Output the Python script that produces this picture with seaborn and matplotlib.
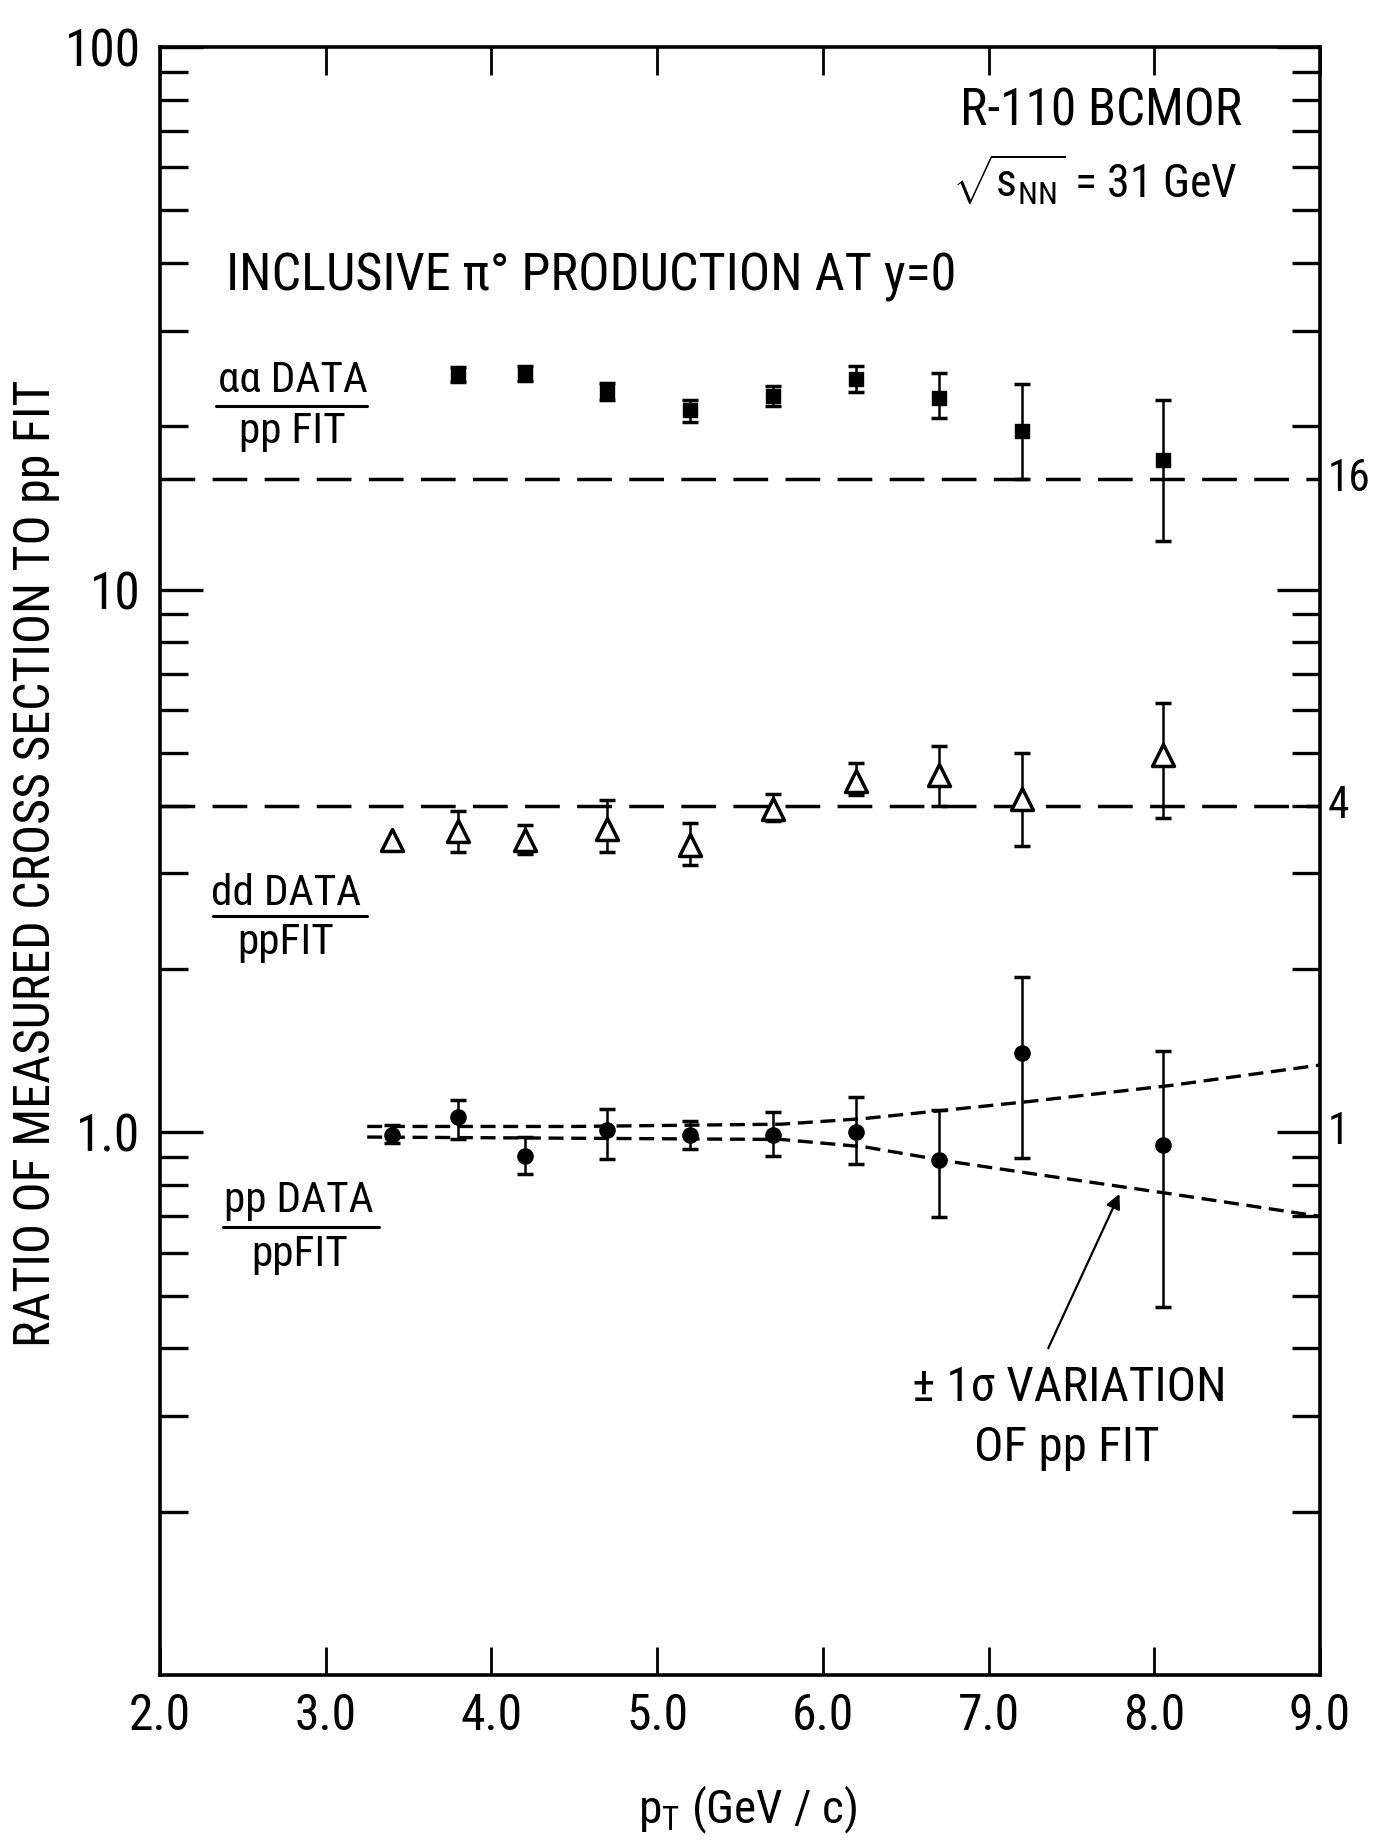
import numpy as np
import matplotlib
matplotlib.use("Agg")
import matplotlib.pyplot as plt
import matplotlib.font_manager as fm
import matplotlib.transforms as mtrans
from matplotlib.ticker import FixedLocator, NullFormatter, FixedFormatter
import seaborn as sns

# ---------------- data ----------------
aa_pt = [3.8, 4.2, 4.7, 5.2, 5.7, 6.2, 6.7, 7.2, 8.05]
aa_val = [24.9, 25.0, 23.2, 21.4, 22.7, 24.4, 22.5, 19.6, 17.3]
aa_lo = [24.1, 24.2, 22.4, 20.4, 21.8, 23.1, 20.7, 16.0, 12.3]
aa_hi = [25.7, 25.8, 24.0, 22.4, 23.7, 25.8, 25.1, 23.9, 22.4]

dd_pt = [3.4, 3.8, 4.2, 4.7, 5.2, 5.7, 6.2, 6.7, 7.2, 8.05]
dd_val = [3.45, 3.59, 3.46, 3.62, 3.38, 3.94, 4.44, 4.56, 4.11, 4.96]
dd_lo = [np.nan, 3.28, 3.26, 3.29, 3.11, 3.75, 4.18, 4.00, 3.37, 3.80]
dd_hi = [np.nan, 3.91, 3.68, 4.09, 3.71, 4.20, 4.79, 5.15, 5.00, 6.18]

pp_pt = [3.4, 3.8, 4.2, 4.7, 5.2, 5.7, 6.2, 6.7, 7.2, 8.05]
pp_val = [0.99, 1.065, 0.905, 1.01, 0.99, 0.99, 1.0, 0.888, 1.40, 0.948]
pp_lo = [0.955, 0.97, 0.838, 0.894, 0.93, 0.904, 0.873, 0.697, 0.895, 0.477]
pp_hi = [1.033, 1.148, 0.98, 1.105, 1.048, 1.09, 1.16, 1.10, 1.93, 1.41]

aa_fit_pt = [2.0, 9.0]
aa_fit = [16.0, 16.0]
dd_fit_pt = [2.0, 9.0]
dd_fit = [4.0, 4.0]
pp_up_pt = [3.25, 4.5, 5.75, 6.25, 7.25, 8.1, 9.0]
pp_up = [1.025, 1.025, 1.035, 1.06, 1.14, 1.22, 1.33]
pp_dn_pt = [3.25, 4.5, 5.75, 6.25, 6.75, 7.25, 8.1, 9.0]
pp_dn = [0.98, 0.975, 0.97, 0.94, 0.885, 0.84, 0.77, 0.70]

x_ticks = [2.0, 3.0, 4.0, 5.0, 6.0, 7.0, 8.0, 9.0]
x_ticklabels = ["2.0", "3.0", "4.0", "5.0", "6.0", "7.0", "8.0", "9.0"]
y_ticks = [1.0, 10.0, 100.0]
y_ticklabels = ["1.0", "10", "100"]
right_vals = [16.0, 4.0, 1.0]
right_labels = ["16", "4", "1"]

# ---------------- style ----------------
sns.set_theme(style="ticks")

def pick_font():
    ents = fm.fontManager.ttflist
    def is_regular(e):
        return e.style == "normal" and str(e.weight) in ("400", "normal", "regular", "book")
    pref = ["liberation sans narrow", "dejavu sans condensed", "roboto condensed",
            "open sans condensed", "noto sans condensed", "arial narrow"]
    for p in pref:
        for e in ents:
            if e.name.lower() == p and is_regular(e):
                return e.name, "normal"
    for e in ents:
        if e.name.lower().startswith(("dejavu sans", "noto sans", "roboto", "open sans", "liberation sans")) \
                and "mono" not in e.name.lower() and is_regular(e) \
                and str(e.stretch) in ("condensed", "semi-condensed", "extra-condensed", "ultra-condensed"):
            return e.name, str(e.stretch)
    return "Liberation Sans", "normal"

FONT, STRETCH = pick_font()
plt.rcParams["font.family"] = [FONT, "DejaVu Sans"]
plt.rcParams["font.stretch"] = STRETCH
plt.rcParams["mathtext.fontset"] = "custom"
plt.rcParams["mathtext.rm"] = FONT
plt.rcParams["mathtext.it"] = FONT
plt.rcParams["mathtext.sf"] = FONT

fig = plt.figure(figsize=(13.74, 18.41), dpi=100)
fig.patch.set_facecolor("white")
ax = fig.add_axes([0.1165, 0.0902, 0.8442, 0.8843])
ax.set_facecolor("white")
ax.set_yscale("log")
ax.set_xlim(2.0, 9.0)
ax.set_ylim(0.1, 100)

# ---------------- fit lines ----------------
long_dash = (0, (10, 5))
short_dash = (0, (4.5, 2.3))
sns.lineplot(x=aa_fit_pt, y=aa_fit, ax=ax, color="black", lw=2.5, linestyle=long_dash, zorder=2)
sns.lineplot(x=dd_fit_pt, y=dd_fit, ax=ax, color="black", lw=2.5, linestyle=long_dash, zorder=2)
sns.lineplot(x=pp_up_pt, y=pp_up, ax=ax, color="black", lw=2.4, linestyle=short_dash, zorder=2)
sns.lineplot(x=pp_dn_pt, y=pp_dn, ax=ax, color="black", lw=2.4, linestyle=short_dash, zorder=2)

# ---------------- data points ----------------
def bars(pt, val, lo, hi):
    val = np.asarray(val, float)
    err = np.vstack([val - np.asarray(lo, float), np.asarray(hi, float) - val])
    ax.errorbar(pt, val, yerr=err, fmt="none", ecolor="black", elinewidth=1.8,
                capsize=6, capthick=2.5, zorder=3)

bars(aa_pt, aa_val, aa_lo, aa_hi)
bars(dd_pt, dd_val, dd_lo, dd_hi)
bars(pp_pt, pp_val, pp_lo, pp_hi)

sns.scatterplot(x=aa_pt, y=aa_val, ax=ax, marker="s", s=110, color="black",
                edgecolor="black", linewidth=1, zorder=4)
sns.scatterplot(x=dd_pt, y=dd_val, ax=ax, marker="^", s=250, facecolor="white",
                edgecolor="black", linewidth=2.5, zorder=4)
sns.scatterplot(x=pp_pt, y=pp_val, ax=ax, marker="o", s=120, color="black",
                edgecolor="black", linewidth=1, zorder=4)

# ---------------- axes styling ----------------
for sp in ax.spines.values():
    sp.set_visible(True)
    sp.set_linewidth(2.6)
    sp.set_color("black")

ax.xaxis.set_major_locator(FixedLocator(x_ticks))
ax.xaxis.set_major_formatter(FixedFormatter(x_ticklabels))
ax.xaxis.set_minor_locator(FixedLocator([]))
ax.yaxis.set_major_locator(FixedLocator(y_ticks))
ax.yaxis.set_major_formatter(FixedFormatter(y_ticklabels))
ax.yaxis.set_minor_formatter(NullFormatter())

renderer = fig.canvas.get_renderer()

def fitted_size(text, base, target_w):
    t = fig.text(0, 0, text, fontsize=base)
    w = t.get_window_extent(renderer).width
    t.remove()
    return base if w <= target_w else base * target_w / w

xt_size = fitted_size("5.0", 37, 62)
yt_size = fitted_size("100", 37, 82)

ax.tick_params(axis="x", which="major", direction="in", top=True, bottom=True,
               length=20, width=2.0, labelsize=xt_size, pad=12, colors="black")
ax.tick_params(axis="y", which="major", direction="in", left=True, right=True,
               length=31, width=2.4, labelsize=yt_size, pad=14, colors="black")
ax.tick_params(axis="y", which="minor", direction="in", left=True, right=True,
               length=20, width=2.4, colors="black")

def fit(t, target_w, rotated=False):
    bb = t.get_window_extent(renderer)
    w = bb.height if rotated else bb.width
    if w > target_w:
        t.set_fontsize(t.get_fontsize() * target_w / w)
    return t

# right-hand scale labels
trans = mtrans.blended_transform_factory(ax.transAxes, ax.transData)
rl_size = fitted_size("16", 36, 43)
for v, lab in zip(right_vals, right_labels):
    ax.text(1.007, v, lab, transform=trans, ha="left", va="center", fontsize=rl_size, color="black")

# ---------------- annotations ----------------
fit(ax.text(7.68, 76, "R-110 BCMOR", ha="center", va="center", fontsize=37, color="black"), 285)
fit(ax.text(7.64, 57, r"$\sqrt{\mathrm{s}_{\mathrm{NN}}}$ = 31 GeV", ha="center", va="center",
            fontsize=39, color="black"), 285)
fit(ax.text(4.60, 37.6, "INCLUSIVE π° PRODUCTION AT y=0", ha="center", va="center",
            fontsize=38, color="black"), 730)

frac_top_labels = ["αα DATA", "dd DATA", "pp DATA"]
frac_bot_labels = ["pp FIT", "ppFIT", "ppFIT"]
frac_x = [2.80, 2.76, 2.84]
frac_top = [24.3, 2.76, 0.75]
frac_line = [21.8, 2.50, 0.67]
frac_bot = [19.6, 2.24, 0.595]
frac_x0 = [2.34, 2.32, 2.38]
frac_x1 = [3.25, 3.25, 3.32]
fs_frac = fitted_size("αα DATA", 32, 150)
for t, b, xc, yt, yl, yb, x0, x1 in zip(frac_top_labels, frac_bot_labels, frac_x, frac_top,
                                        frac_line, frac_bot, frac_x0, frac_x1):
    ax.text(xc, yt, t, ha="center", va="center", fontsize=fs_frac, color="black")
    ax.text(xc, yb, b, ha="center", va="center", fontsize=fs_frac, color="black")
    ax.plot([x0, x1], [yl, yl], color="black", lw=2.2)

fs_var = fitted_size("± 1σ VARIATION", 36, 315)
ax.text(7.49, 0.338, "± 1σ VARIATION", ha="center", va="center", fontsize=fs_var, color="black")
ax.text(7.47, 0.262, "OF pp FIT", ha="center", va="center", fontsize=fs_var, color="black")
ax.annotate("", xy=(7.79, 0.77), xytext=(7.36, 0.40),
            arrowprops=dict(arrowstyle="-|>", color="black", lw=1.6,
                            mutation_scale=22, shrinkA=0, shrinkB=0))

# axis titles
fit(fig.text(0.026, 0.531, "RATIO OF MEASURED CROSS SECTION TO pp FIT", rotation=90,
             ha="center", va="center", fontsize=36, color="black"), 1000, rotated=True)
fit(fig.text(0.544, 0.017, r"$\mathrm{p_T}$ (GeV / c)", ha="center", va="center",
             fontsize=34, color="black"), 235)

fig.savefig("out.png", dpi=100, facecolor="white")
